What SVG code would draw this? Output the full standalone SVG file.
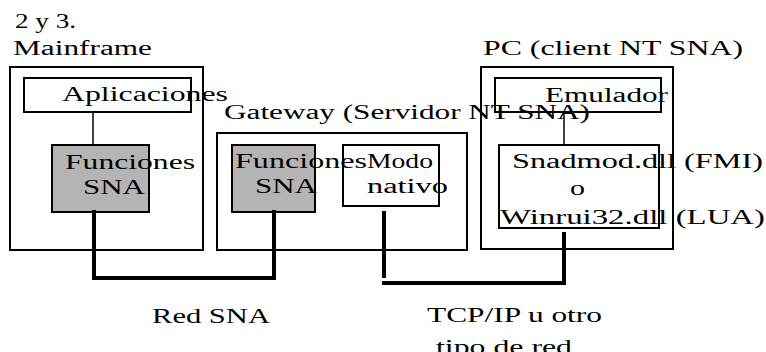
<svg xmlns="http://www.w3.org/2000/svg" width="766" height="352" viewBox="0 0 766 352">
<style>
text{font-family:"Liberation Serif","Times New Roman",serif;font-size:20px;fill:#000}
.box{fill:none;stroke:#000;stroke-width:2}
.gray{fill:#b4b4b4;stroke:#000;stroke-width:2}
.thin{fill:none;stroke:#000;stroke-width:1.5}
.net{fill:none;stroke:#000;stroke-width:4;stroke-linejoin:miter;stroke-linecap:square}
</style>
<rect width="766" height="352" fill="#fff"/>
<text x="15" y="28" textLength="61" lengthAdjust="spacingAndGlyphs">2 y 3.</text>
<g id="mainframe">
<text x="13" y="55" textLength="139" lengthAdjust="spacingAndGlyphs">Mainframe</text>
<rect class="box" x="10" y="67" width="193" height="183"/>
</g>
<g id="aplicaciones">
<rect class="box" x="24" y="78" width="167" height="34"/>
<text x="62" y="101" textLength="166" lengthAdjust="spacingAndGlyphs">Aplicaciones</text>
</g>
<g id="mf-funciones">
<rect class="gray" x="52" y="145" width="97" height="67"/>
<text x="65" y="169" textLength="130" lengthAdjust="spacingAndGlyphs">Funciones</text>
<text x="83" y="194" textLength="62" lengthAdjust="spacingAndGlyphs">SNA</text>
</g>
<g id="gateway">
<rect class="box" x="217" y="133" width="250" height="117"/>
<text x="224" y="119" textLength="366" lengthAdjust="spacingAndGlyphs">Gateway (Servidor NT SNA)</text>
</g>
<g id="gw-funciones">
<rect class="gray" x="232" y="145" width="83" height="67"/>
<text x="235" y="168" textLength="132" lengthAdjust="spacingAndGlyphs">Funciones</text>
<text x="255" y="193" textLength="62" lengthAdjust="spacingAndGlyphs">SNA</text>
</g>
<g id="modo-nativo">
<rect class="box" x="343" y="145" width="96" height="61"/>
<text x="367" y="168" textLength="66" lengthAdjust="spacingAndGlyphs">Modo</text>
<text x="367" y="193" textLength="81" lengthAdjust="spacingAndGlyphs">nativo</text>
</g>
<g id="pc">
<text x="483" y="55" textLength="260" lengthAdjust="spacingAndGlyphs">PC (client NT SNA)</text>
<rect class="box" x="481" y="67" width="192" height="182"/>
</g>
<g id="emulador">
<rect class="box" x="495" y="78" width="166" height="34"/>
<text x="545" y="102" textLength="123" lengthAdjust="spacingAndGlyphs">Emulador</text>
</g>
<g id="dll">
<rect class="box" x="499" y="145" width="160" height="83"/>
<text x="512" y="168" textLength="251" lengthAdjust="spacingAndGlyphs">Snadmod.dll (FMI)</text>
<text x="570" y="195" textLength="15" lengthAdjust="spacingAndGlyphs">o</text>
<text x="500" y="224" textLength="265" lengthAdjust="spacingAndGlyphs">Winrui32.dll (LUA)</text>
</g>
<g id="connectors">
<line class="thin" x1="93" y1="112" x2="93" y2="145"/>
<line class="thin" x1="564" y1="112" x2="564" y2="145"/>
<polyline class="net" points="94,212 94,278 274,278 274,212"/>
<line class="net" x1="384" y1="213" x2="384" y2="276"/>
<polyline class="net" points="384,283 564,283 564,234"/>
</g>
<g id="labels">
<text x="152" y="323" textLength="118" lengthAdjust="spacingAndGlyphs">Red SNA</text>
<text x="427" y="322" textLength="175" lengthAdjust="spacingAndGlyphs">TCP/IP u otro</text>
<text x="436" y="354" textLength="136" lengthAdjust="spacingAndGlyphs">tipo de red</text>
</g>
</svg>
